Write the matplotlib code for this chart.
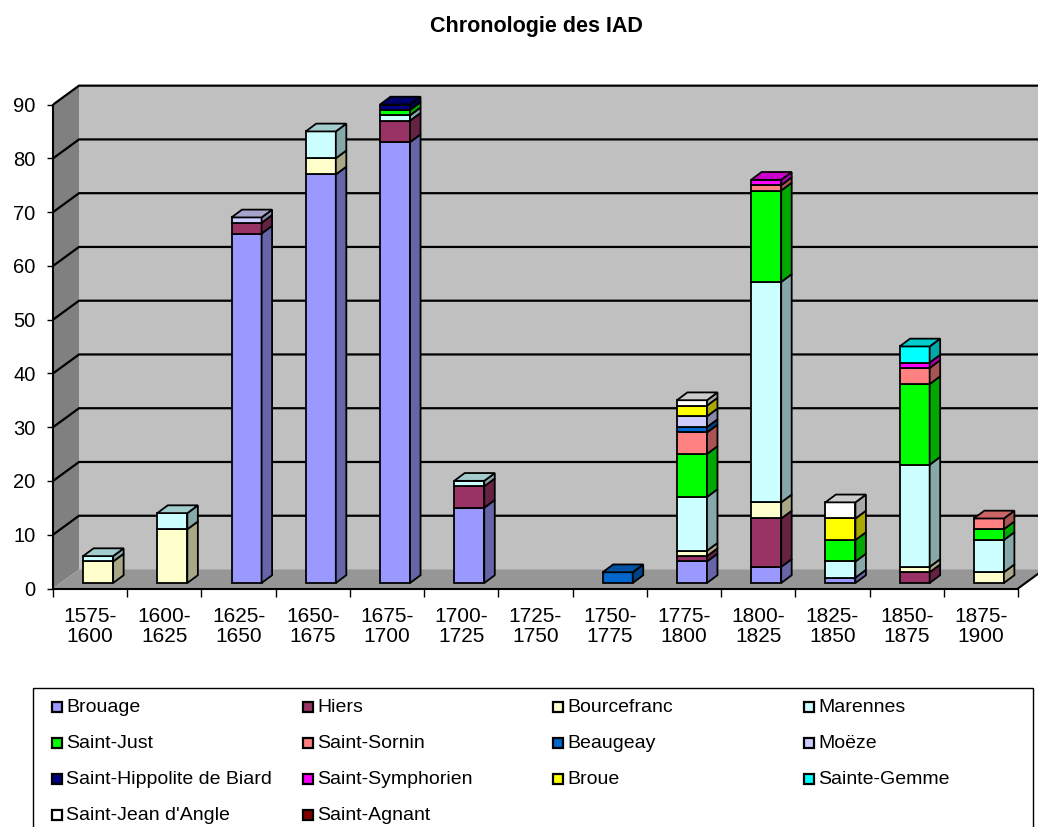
import numpy as np
import matplotlib.pyplot as plt
from matplotlib.patches import Polygon, Rectangle
from matplotlib.colors import to_rgb

plt.rcParams['font.family'] = ['Liberation Sans', 'DejaVu Sans']

periods = ['1575-\n1600', '1600-\n1625', '1625-\n1650', '1650-\n1675', '1675-\n1700',
           '1700-\n1725', '1725-\n1750', '1750-\n1775', '1775-\n1800', '1800-\n1825',
           '1825-\n1850', '1850-\n1875', '1875-\n1900']

brouage = [0, 0, 65, 76, 82, 14, 0, 0, 4, 3, 1, 0, 0]
hiers = [0, 0, 2, 0, 4, 4, 0, 0, 1, 9, 0, 2, 0]
bourcefranc = [4, 10, 0, 3, 0, 0, 0, 0, 1, 3, 0, 1, 2]
marennes = [1, 3, 0, 5, 1, 1, 0, 0, 10, 41, 3, 19, 6]
saint_just = [0, 0, 0, 0, 1, 0, 0, 0, 8, 17, 4, 15, 2]
saint_sornin = [0, 0, 0, 0, 0, 0, 0, 0, 4, 1, 0, 3, 2]
beaugeay = [0, 0, 0, 0, 0, 0, 0, 2, 1, 0, 0, 0, 0]
moeze = [0, 0, 1, 0, 0, 0, 0, 0, 2, 0, 0, 0, 0]
saint_hippolite = [0, 0, 0, 0, 1, 0, 0, 0, 0, 0, 0, 0, 0]
saint_symphorien = [0, 0, 0, 0, 0, 0, 0, 0, 0, 1, 0, 1, 0]
broue = [0, 0, 0, 0, 0, 0, 0, 0, 2, 0, 4, 0, 0]
sainte_gemme = [0, 0, 0, 0, 0, 0, 0, 0, 0, 0, 0, 3, 0]
saint_jean = [0, 0, 0, 0, 0, 0, 0, 0, 1, 0, 3, 0, 0]
saint_agnant = [0, 0, 0, 0, 0, 0, 0, 0, 0, 0, 0, 0, 0]

names = ['Brouage', 'Hiers', 'Bourcefranc', 'Marennes', 'Saint-Just', 'Saint-Sornin',
         'Beaugeay', 'Moëze', 'Saint-Hippolite de Biard', 'Saint-Symphorien', 'Broue',
         'Sainte-Gemme', "Saint-Jean d'Angle", 'Saint-Agnant']
series = [brouage, hiers, bourcefranc, marennes, saint_just, saint_sornin, beaugeay,
          moeze, saint_hippolite, saint_symphorien, broue, sainte_gemme, saint_jean,
          saint_agnant]
colors = ['#9999FF', '#993366', '#FFFFCC', '#CCFFFF', '#00FF00', '#FF8080', '#0066CC',
          '#CCCCFF', '#000080', '#FF00FF', '#FFFF00', '#00FFFF', '#FFFFFF', '#800000']


def shade(c, f):
    return tuple(v * f for v in to_rgb(c))


W, H = 1038, 827
fig = plt.figure(figsize=(W / 100, H / 100), dpi=100)

# plot box geometry in pixels
left_px, floor_px = 53, 588.5
cat_px, unit_px = 74.23, 5.376
ymax = 94.0
ax = fig.add_axes([left_px / W, (H - floor_px) / H, (W - left_px) / W, ymax * unit_px / H])
xmax = (W - left_px) / cat_px
ax.set_xlim(0, xmax)
ax.set_ylim(0, ymax)

n = len(periods)
ddx, ddy = 26 / cat_px, 19 / unit_px      # depth of the box
bw, boff = 0.405, 0.405                   # bar front width and offset in category
bz = 5.5 / unit_px                        # bars stand a bit back on the floor
bdx, bdy = 10.5 / cat_px, 7.8 / unit_px   # bar depth

# walls and floor
ax.add_patch(Polygon([(0, 0), (ddx, ddy), (ddx, 90 + ddy), (0, 90)],
                     closed=True, fc='#808080', ec='none', zorder=0))
ax.add_patch(Rectangle((ddx, ddy), xmax, 90, fc='#C0C0C0', ec='none', zorder=0))
ax.add_patch(Polygon([(0, 0), (n, 0), (n + ddx, ddy), (ddx, ddy)],
                     closed=True, fc='#969696', ec='none', zorder=0))
ax.plot([n, n + ddx], [0, ddy], color='black', lw=1.5, zorder=1, clip_on=False)
for v in range(10, 100, 10):
    ax.plot([0, ddx, xmax], [v, v + ddy, v + ddy], color='black', lw=1.6, zorder=1)

# stacked bars
bottom = np.full(n, bz)
tops = [None] * n
for vals, c in zip(series, colors):
    vals = np.array(vals, dtype=float)
    idx = np.nonzero(vals)[0]
    if len(idx) == 0:
        continue
    ax.bar(idx + boff, vals[idx], width=bw, bottom=bottom[idx], align='edge',
           color=c, edgecolor='black', linewidth=1.3, zorder=3)
    for i in idx:
        x1 = i + boff + bw
        b, t = bottom[i], bottom[i] + vals[i]
        ax.add_patch(Polygon([(x1, b), (x1 + bdx, b + bdy), (x1 + bdx, t + bdy), (x1, t)],
                             closed=True, fc=shade(c, 0.66), ec='black', lw=1.3, zorder=3))
        tops[i] = c
    bottom[idx] += vals[idx]

for i in range(n):
    if tops[i] is None:
        continue
    xl, xr, t = i + boff, i + boff + bw, bottom[i]
    ax.add_patch(Polygon([(xl, t), (xl + bdx, t + bdy), (xr + bdx, t + bdy), (xr, t)],
                         closed=True, fc=shade(tops[i], 0.8), ec='black', lw=1.3, zorder=3))

# axes
for side in ['top', 'right']:
    ax.spines[side].set_visible(False)
ax.spines['left'].set_bounds(0, 90)
ax.spines['bottom'].set_bounds(0, n)
ax.spines['left'].set_linewidth(1.5)
ax.spines['bottom'].set_linewidth(1.5)
ax.spines['left'].set_zorder(4)
ax.spines['bottom'].set_zorder(4)

ax.set_yticks(range(0, 100, 10))
ax.tick_params(axis='y', direction='out', length=4.5, width=1, labelsize=14.5, pad=8)
ax.set_xticks(range(n + 1))
ax.set_xticklabels([''] * (n + 1))
ax.tick_params(axis='x', which='major', direction='out', length=5.5, width=1)
ax.set_xticks(np.arange(n) + 0.5, minor=True)
ax.set_xticklabels(periods, minor=True, linespacing=1.09)
ax.tick_params(axis='x', which='minor', length=0, labelsize=15, pad=13)

fig.text(536 / W, 1 - 31.7 / H, 'Chronologie des IAD', ha='center', va='baseline',
         fontsize=15.5, fontweight='bold')

# legend box, four entries per row
fig.add_artist(Rectangle((33.3 / W, 1 - 860 / H), 1000 / W, (860 - 688.3) / H,
                         transform=fig.transFigure, fc='white', ec='black', lw=1))
for j, (name, c) in enumerate(zip(names, colors)):
    r, k = divmod(j, 4)
    mx = 52 + k * 250.5
    my = 706.5 + r * 36
    fig.add_artist(Rectangle((mx / W, 1 - (my + 5) / H), 10 / W, 10 / H,
                             transform=fig.transFigure, fc=c, ec='black', lw=1.6))
    fig.text((mx + 14.5) / W, 1 - (my + 6) / H, name, ha='left', va='baseline', fontsize=14)

fig.savefig('out.png', dpi=100)
